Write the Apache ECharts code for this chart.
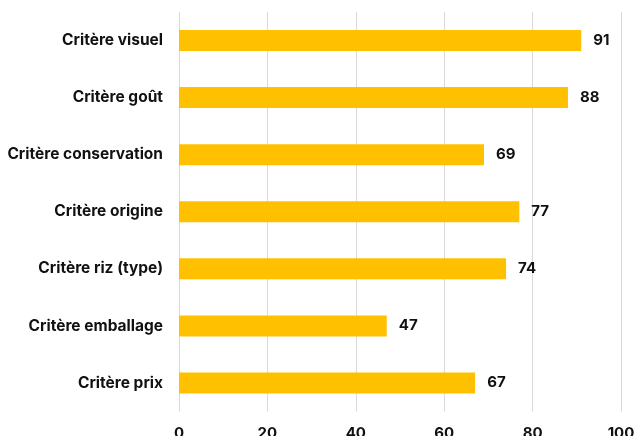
<!DOCTYPE html>
<html><head><meta charset="utf-8">
<script src="https://cdn.jsdelivr.net/npm/echarts@6/dist/echarts.min.js"></script>
<style>html,body{margin:0;padding:0;background:#fff}#c{width:636px;height:436px}</style>
</head><body><div id="c"></div>
<script>
const categories = ["Critère visuel","Critère goût","Critère conservation","Critère origine","Critère riz (type)","Critère emballage","Critère prix"];
const values = [91,88,69,77,74,47,67];
const xTicks = {min:0,max:100,interval:20};
const chart = echarts.init(document.getElementById('c'));
chart.setOption({
  animation:false,
  textStyle:{fontFamily:'Inter'},
  grid:{left:179,right:15,top:12,bottom:24.5,containLabel:false,outerBoundsMode:'none'},
  xAxis:{type:'value',min:xTicks.min,max:xTicks.max,interval:xTicks.interval,
    axisLine:{show:false},axisTick:{show:false},
    splitLine:{lineStyle:{color:'#d9d9d9',width:1}},
    axisLabel:{margin:14,color:'#111',fontWeight:'bold',fontSize:15,fontFamily:'Inter'}},
  yAxis:{type:'category',data:categories,inverse:true,
    axisLine:{show:false},axisTick:{show:false},
    axisLabel:{margin:16,color:'#111',fontWeight:'bold',fontSize:15.5,fontFamily:'Inter'}},
  series:[{type:'bar',data:values,barWidth:21,itemStyle:{color:'#FFC000'},
    label:{show:true,position:'right',distance:12,color:'#111',fontWeight:'bold',fontSize:15,fontFamily:'Inter'}}]
});
</script></body></html>
